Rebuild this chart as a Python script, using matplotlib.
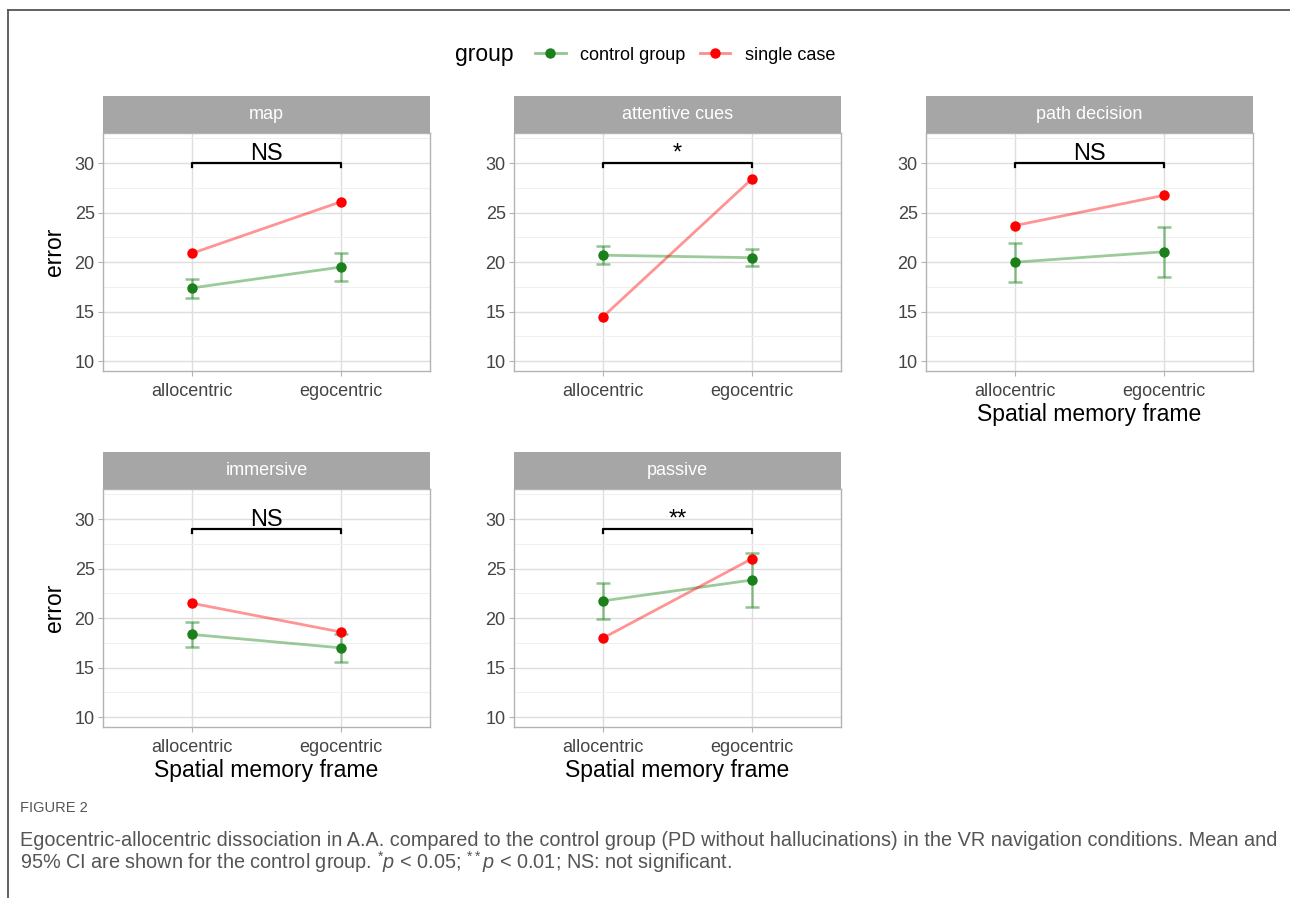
import numpy as np
import matplotlib.pyplot as plt
from matplotlib.lines import Line2D

plt.rcParams['font.family'] = ['Liberation Sans', 'DejaVu Sans']

# data
conditions = ['map', 'attentive cues', 'path decision', 'immersive', 'passive']
frames = ['allocentric', 'egocentric']
single_case = [[20.9, 26.1], [14.5, 28.4], [23.7, 26.75], [21.5, 18.6], [18.0, 26.0]]
control_mean = [[17.4, 19.5], [20.7, 20.45], [20.0, 21.05], [18.35, 17.0], [21.75, 23.85]]
control_lo = [[16.4, 18.05], [19.8, 19.6], [17.95, 18.5], [17.07, 15.6], [19.92, 21.14]]
control_hi = [[18.25, 20.9], [21.6, 21.3], [21.95, 23.6], [19.64, 18.4], [23.53, 26.58]]
signif = ['NS', '*', 'NS', 'NS', '**']
bracket_y = [30, 30, 30, 29, 29]

green = '#228B22'
green_pt = '#1B7F1B'
red = '#FF0000'

W, H = 1290, 898
fig = plt.figure(figsize=(W / 100, H / 100), dpi=100)


def px_axes(x0, y0, x1, y1):
    return fig.add_axes([x0 / W, 1 - y1 / H, (x1 - x0) / W, (y1 - y0) / H])


lefts = [103, 514, 926]
rows = [(96, 133, 371), (452, 489, 727)]
x = np.arange(1, len(frames) + 1)

for i, cond in enumerate(conditions):
    r, c = divmod(i, 3)
    x0 = lefts[c]
    ax = px_axes(x0, rows[r][1], x0 + 327, rows[r][2])
    strip = px_axes(x0, rows[r][0], x0 + 327, rows[r][1])
    strip.set_facecolor('#A6A6A6')
    strip.set_xticks([])
    strip.set_yticks([])
    for s in strip.spines.values():
        s.set_visible(False)
    strip.text(0.5, 0.5, cond, color='white', fontsize=13, ha='center', va='center',
               transform=strip.transAxes)

    mean = np.array(control_mean[i])
    lo = np.array(control_lo[i])
    hi = np.array(control_hi[i])
    ax.errorbar(x, mean, yerr=[mean - lo, hi - mean], fmt='none', ecolor=green, alpha=0.5,
                elinewidth=1.8, capsize=5, capthick=1.8, zorder=3)
    ax.plot(x, mean, color=green, alpha=0.45, lw=2, zorder=3)
    ax.plot(x, single_case[i], color=red, alpha=0.42, lw=2, zorder=3)
    ax.plot(x, mean, 'o', color=green_pt, ms=7.5, mec='none', zorder=4)
    ax.plot(x, single_case[i], 'o', color=red, ms=7.5, mec='none', zorder=4)

    b = bracket_y[i]
    ax.plot([1, 1, 2, 2], [b - 0.4, b, b, b - 0.4], color='black', lw=1.6, zorder=5)
    ax.text(1.5, b + 0.35, signif[i], ha='center', va='baseline', fontsize=17)

    ax.set_xlim(0.4, 2.6)
    ax.set_ylim(9.0, 33.05)
    ax.set_xticks(x)
    ax.set_xticklabels(frames)
    ax.set_yticks([10, 15, 20, 25, 30])
    ax.set_yticks([12.5, 17.5, 22.5, 27.5, 32.5], minor=True)
    ax.tick_params(which='major', length=3.5, width=0.8, color='#B3B3B3', labelsize=13,
                   labelcolor='#444444', pad=2.5)
    ax.tick_params(axis='x', which='major', pad=5.5)
    ax.tick_params(which='minor', length=0)
    ax.grid(which='major', color='#DEDEDE', lw=1.0, zorder=0)
    ax.grid(which='minor', axis='y', color='#EFEFEF', lw=0.7, zorder=0)
    ax.set_axisbelow(True)
    for s in ax.spines.values():
        s.set_color('#B3B3B3')
        s.set_linewidth(1.0)

    if c == 0:
        ax.set_ylabel('error', fontsize=16.5, labelpad=6)
    if i >= 2:
        ax.set_xlabel('Spatial memory frame', fontsize=16.5, labelpad=2)

# legend across the top
fig.text(455 / W, 1 - 55 / H, 'group', fontsize=16.5, ha='left', va='center')
handles = [(Line2D([0], [0], color=green, alpha=0.5, lw=2),
            Line2D([0], [0], marker='o', color=green_pt, ms=7.5, mec='none', lw=0)),
           (Line2D([0], [0], color=red, alpha=0.45, lw=2),
            Line2D([0], [0], marker='o', color=red, ms=7.5, mec='none', lw=0))]
fig.legend(handles, ['control group', 'single case'], ncol=2, frameon=False, fontsize=13,
           loc='center', bbox_to_anchor=(685 / W, 1 - 55 / H), handlelength=1.7,
           handletextpad=0.8, columnspacing=0.8, borderpad=0)

# outer frame lines
fig.add_artist(Line2D([8 / W, 8 / W], [0, 1 - 10 / H], transform=fig.transFigure,
                      color='#555555', lw=1.3))
fig.add_artist(Line2D([8 / W, 1], [1 - 10 / H, 1 - 10 / H], transform=fig.transFigure,
                      color='#555555', lw=1.3))

# caption
cap_font = 'Liberation Sans'
plt.rcParams['mathtext.fontset'] = 'custom'
plt.rcParams['mathtext.rm'] = cap_font
plt.rcParams['mathtext.it'] = cap_font + ':italic'
cap_col = '#555555'
fig.text(20 / W, 1 - 808 / H, 'FIGURE 2', fontsize=10.5, color=cap_col, va='center',
         family=cap_font)
fig.text(20 / W, 1 - 840 / H,
         'Egocentric-allocentric dissociation in A.A. compared to the control group '
         '(PD without hallucinations) in the VR navigation conditions. Mean and',
         fontsize=14.3, color=cap_col, va='center', family=cap_font)
fig.text(20 / W, 1 - 862 / H,
         '95% CI are shown for the control group. $^{*}\\mathit{p}$ < 0.05; '
         '$^{**}\\mathit{p}$ < 0.01; NS: not significant.',
         fontsize=14.3, color=cap_col, va='center', family=cap_font)

fig.savefig('out.png', dpi=100)
